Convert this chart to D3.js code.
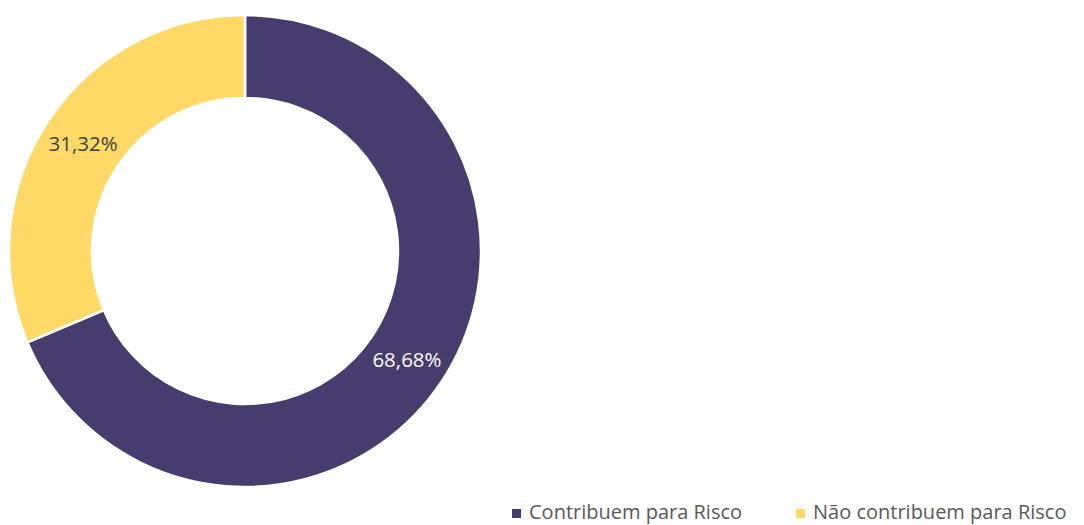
<!DOCTYPE html>
<html>
<head>
<meta charset="utf-8">
<script src="https://cdn.jsdelivr.net/npm/d3@7"></script>
<style>
  html, body { margin: 0; padding: 0; background: #ffffff; }
  svg { display: block; }
  text { font-family: "Open Sans", Lato, sans-serif; }
</style>
</head>
<body>
<svg id="chart" width="1084" height="525"></svg>
<script>
// Share of items by risk contribution (percent)
const categories = ["Contribuem para Risco", "Não contribuem para Risco"];
const values = [68.68, 31.32];
const colors = ["#463c6d", "#ffd966"];
const labelColors = ["#ffffff", "#404040"];

const svg = d3.select("#chart");
const cx = 245, cy = 251;
const outerR = 236, innerR = 153;

const pie = d3.pie().sort(null).value(d => d.value);
const arc = d3.arc().innerRadius(innerR).outerRadius(outerR);

const data = categories.map((c, i) => ({ name: c, value: values[i], i }));
const arcs = pie(data);

const g = svg.append("g").attr("transform", `translate(${cx},${cy})`);

g.selectAll("path.slice")
  .data(arcs)
  .join("path")
  .attr("class", "slice")
  .attr("d", arc)
  .attr("fill", d => colors[d.data.i])
  .attr("stroke", "#ffffff")
  .attr("stroke-width", 2.5)
  .attr("stroke-linejoin", "miter");

const fmt = v => v.toFixed(2).replace(".", ",") + "%";

g.selectAll("text.lbl")
  .data(arcs)
  .join("text")
  .attr("class", "lbl")
  .attr("transform", d => `translate(${arc.centroid(d)})`)
  .attr("text-anchor", "middle")
  .attr("dominant-baseline", "central")
  .attr("font-size", 20.5)
  .attr("fill", d => labelColors[d.data.i])
  .text(d => fmt(d.data.value));

// Legend along the bottom right
const legendX = [512, 796];
const legend = svg.append("g");
categories.forEach((c, i) => {
  legend.append("rect")
    .attr("x", legendX[i]).attr("y", 509)
    .attr("width", 9).attr("height", 9)
    .attr("fill", colors[i]);
  legend.append("text")
    .attr("x", legendX[i] + 17).attr("y", 519)
    .attr("font-size", 20)
    .attr("fill", "#595959")
    .text(c);
});
</script>
</body>
</html>
